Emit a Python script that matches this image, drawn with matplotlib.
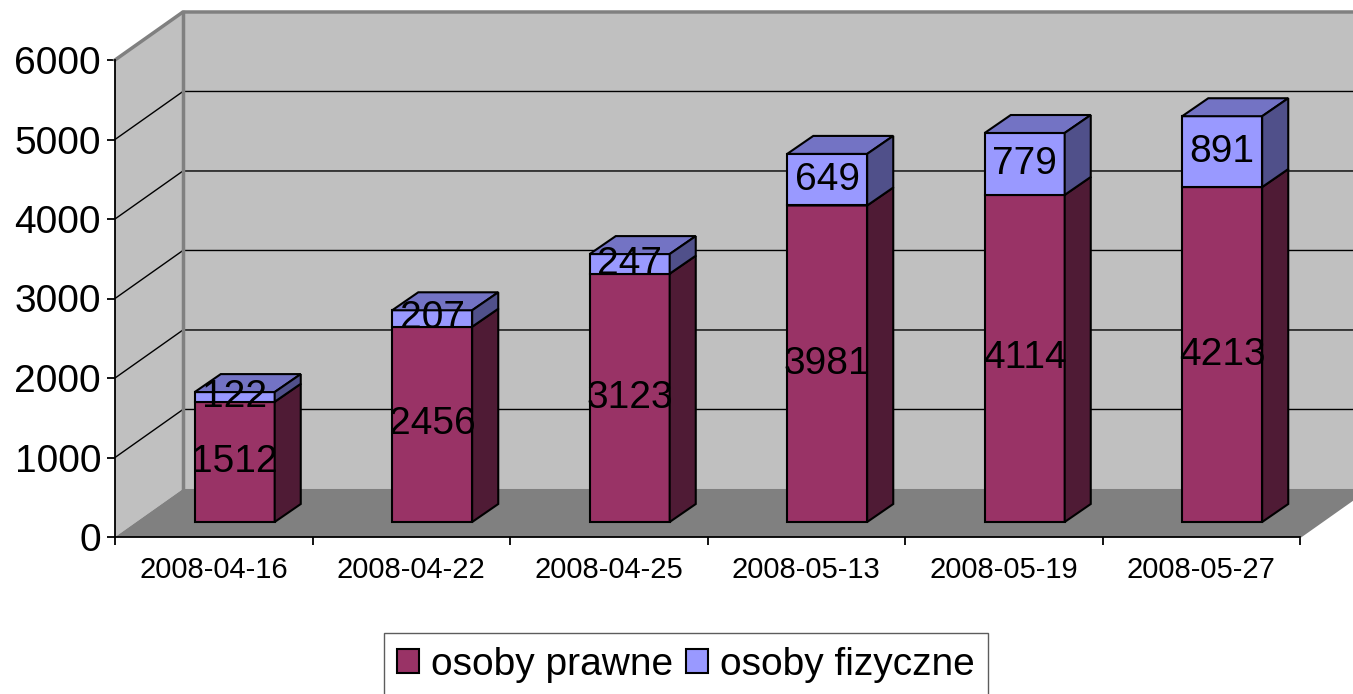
import matplotlib
matplotlib.use('Agg')
import matplotlib.pyplot as plt
from matplotlib.patches import Polygon, Patch

plt.rcParams['font.family'] = ['Liberation Sans', 'DejaVu Sans']

# data
dates = ['2008-04-16', '2008-04-22', '2008-04-25', '2008-05-13', '2008-05-19', '2008-05-27']
prawne = [1512, 2456, 3123, 3981, 4114, 4213]
fizyczne = [122, 207, 247, 649, 779, 891]
series_names = ['osoby prawne', 'osoby fizyczne']

# colours: front, top, side
COL_PRAWNE = ('#993366', '#7A2951', '#4F1B35')
COL_FIZ = ('#9999FF', '#7373C4', '#50508A')

# fake 3d geometry (x in category units, y in value units)
WALL_DX, WALL_DY = 0.344, 604     # depth of the box
BAR_OX, BAR_OY = 0.106, 189       # bar front face offset from front plane
BAR_W = 0.405
BAR_DX, BAR_DY = 0.132, 226       # bar depth

fig = plt.figure(figsize=(13.53, 6.94), dpi=100)
ax = fig.add_axes([115 / 1353, 1 - 537 / 694, 1185 / 1353, 477 / 694])
ax.set_xlim(-0.5, 5.5)
ax.set_ylim(0, 6000)
ax.patch.set_visible(False)

x0, x1 = -0.5, 5.5
top = 6000

# walls + floor
side = Polygon([(x0, 0), (x0, top), (x0 + WALL_DX, top + WALL_DY), (x0 + WALL_DX, WALL_DY)],
               facecolor='#C0C0C0', edgecolor='none', zorder=0, clip_on=False)
back = Polygon([(x0 + WALL_DX, WALL_DY), (x1 + WALL_DX, WALL_DY),
                (x1 + WALL_DX, top + WALL_DY), (x0 + WALL_DX, top + WALL_DY)],
               facecolor='#C0C0C0', edgecolor='none', zorder=0, clip_on=False)
floor = Polygon([(x0, 0), (x1, 0), (x1 + WALL_DX, WALL_DY), (x0 + WALL_DX, WALL_DY)],
                facecolor='#808080', edgecolor='none', zorder=1, clip_on=False)
for p in (side, back, floor):
    ax.add_patch(p)

for v in range(1000, 6000, 1000):
    ax.plot([x0, x0 + WALL_DX, x1 + WALL_DX], [v, v + WALL_DY, v + WALL_DY],
            color='black', lw=1, zorder=2, clip_on=False)

ax.plot([x0, x0 + WALL_DX, x1 + WALL_DX], [top, top + WALL_DY, top + WALL_DY],
        color='#808080', lw=2.5, zorder=2, clip_on=False)
ax.plot([x0 + WALL_DX, x0 + WALL_DX], [WALL_DY, top + WALL_DY],
        color='#808080', lw=2.5, zorder=2, clip_on=False)
ax.plot([x1, x1 + WALL_DX], [0, WALL_DY], color='#808080', lw=1.5, zorder=2, clip_on=False)


def draw_segment(xl, y0, y1, cols, label):
    front, topc, sidec = cols
    b0, b1 = BAR_OY + y0, BAR_OY + y1
    ax.bar(xl, b1 - b0, width=BAR_W, bottom=b0, align='edge',
           color=front, edgecolor='black', lw=1.5, zorder=3, clip_on=False)
    ax.add_patch(Polygon([(xl, b1), (xl + BAR_W, b1), (xl + BAR_W + BAR_DX, b1 + BAR_DY),
                          (xl + BAR_DX, b1 + BAR_DY)],
                         facecolor=topc, edgecolor='black', lw=1.5, zorder=3, clip_on=False))
    ax.add_patch(Polygon([(xl + BAR_W, b0), (xl + BAR_W + BAR_DX, b0 + BAR_DY),
                          (xl + BAR_W + BAR_DX, b1 + BAR_DY), (xl + BAR_W, b1)],
                         facecolor=sidec, edgecolor='black', lw=1.5, zorder=3, clip_on=False))
    ax.text(xl + BAR_W / 2, (b0 + b1) / 2, label, ha='center', va='center',
            fontsize=28, zorder=5)


for i in range(len(dates)):
    xl = i + BAR_OX - BAR_W / 2
    draw_segment(xl, 0, prawne[i], COL_PRAWNE, str(prawne[i]))
    draw_segment(xl, prawne[i], prawne[i] + fizyczne[i], COL_FIZ, str(fizyczne[i]))

# axes
for s in ('top', 'right'):
    ax.spines[s].set_visible(False)
for s in ('left', 'bottom'):
    ax.spines[s].set_color('black')
    ax.spines[s].set_linewidth(1.3)
    ax.spines[s].set_zorder(4)

ax.set_yticks(range(0, 6001, 1000))
ax.tick_params(axis='y', labelsize=28, length=6, width=1.3, pad=4)
ax.set_xticks([i - 0.5 for i in range(len(dates) + 1)])
ax.set_xticklabels([])
ax.set_xticks(range(len(dates)), minor=True)
ax.set_xticklabels(dates, minor=True)
ax.tick_params(axis='x', which='major', length=6, width=1.3)
ax.tick_params(axis='x', which='minor', length=0, labelsize=21, pad=14)

handles = [Patch(facecolor=COL_PRAWNE[0], edgecolor='black', lw=1.5),
           Patch(facecolor=COL_FIZ[0], edgecolor='black', lw=1.5)]
leg = fig.legend(handles, series_names, loc='upper center', ncol=2,
                 bbox_to_anchor=(686 / 1353, 1 - 633 / 694), fontsize=28,
                 handlelength=0.56, handleheight=0.56, handletextpad=0.3,
                 columnspacing=0.35, borderpad=0.35, borderaxespad=0,
                 frameon=True, fancybox=False, edgecolor='#333333')
leg.get_frame().set_linewidth(1)

fig.savefig('out.png', dpi=100)
